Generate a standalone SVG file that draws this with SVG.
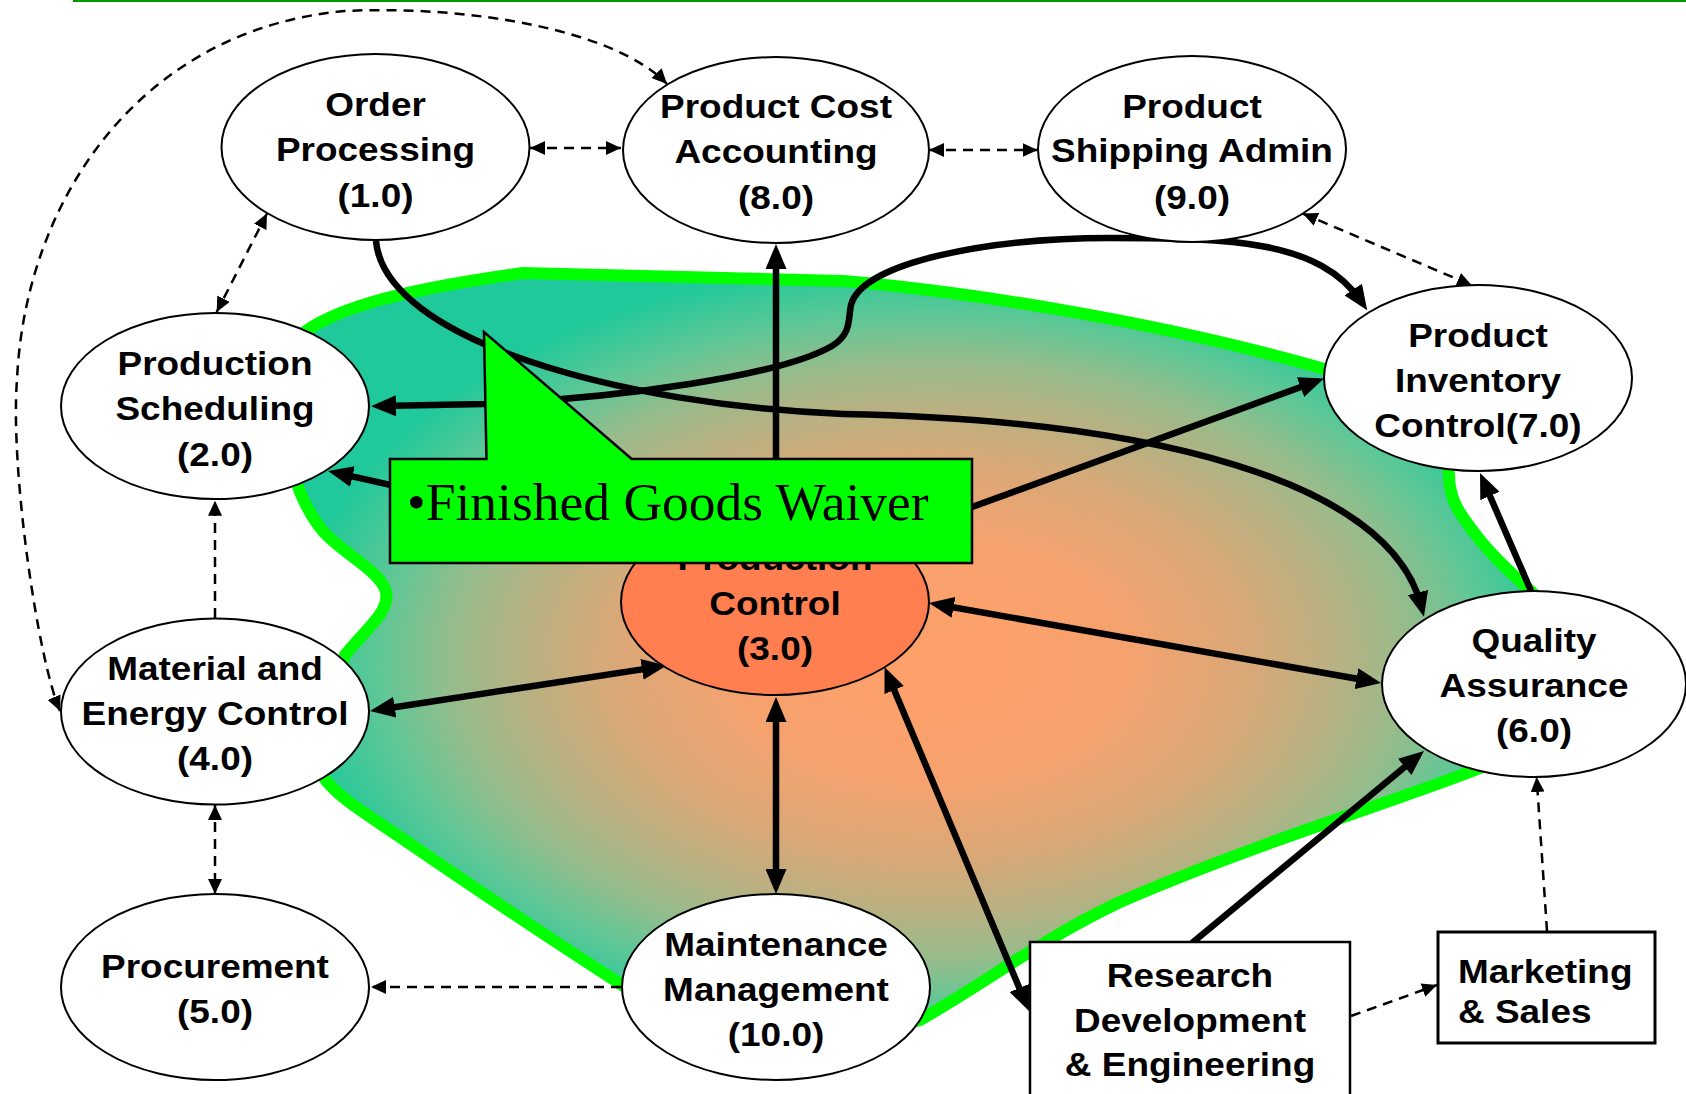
<svg xmlns="http://www.w3.org/2000/svg" width="1686" height="1094" viewBox="0 0 1686 1094">
<defs>
<style>
.node{fill:#fff;stroke:#000;stroke-width:2}
.t{font-family:"Liberation Sans",Arial,sans-serif;font-weight:bold;font-size:33px;text-anchor:middle;fill:#000}
.tl{text-anchor:start}
.s{fill:none;stroke:#000;stroke-width:6.5}
.d{fill:none;stroke:#000;stroke-width:2.5;stroke-dasharray:10 7}
.box{fill:#fff;stroke:#000;stroke-width:2.5}
</style>
<radialGradient id="blobGrad" gradientUnits="userSpaceOnUse" cx="0" cy="0" r="1" gradientTransform="translate(930 660) scale(640 400)">
<stop offset="0" stop-color="#FFA06A"/>
<stop offset="0.3" stop-color="#F6A26E"/>
<stop offset="0.5" stop-color="#D9A878"/>
<stop offset="0.65" stop-color="#B4B283"/>
<stop offset="0.75" stop-color="#96BC8C"/>
<stop offset="0.86" stop-color="#60C796"/>
<stop offset="1" stop-color="#20C99B"/>
</radialGradient>
<marker id="as" viewBox="0 0 25 21" refX="15" refY="10.5" markerWidth="25" markerHeight="21" markerUnits="userSpaceOnUse" orient="auto-start-reverse"><path d="M0 0 L25 10.5 L0 21 Z" fill="#000"/></marker>
<marker id="ad" viewBox="0 0 15 14" refX="15" refY="7" markerWidth="15" markerHeight="14" markerUnits="userSpaceOnUse" orient="auto-start-reverse"><path d="M0 0 L15 7 L0 14 Z" fill="#000"/></marker>
</defs>
<rect width="1686" height="1094" fill="#fff"/>
<line x1="73" y1="1" x2="1686" y2="1" stroke="#009900" stroke-width="2"/>

<g id="region">
<path d="M 290 345 C 320 310, 400 290, 523 273 L 843 281 C 950 290, 1150 318, 1335 372 C 1420 400, 1448 440, 1449 475 C 1449 500, 1460 515, 1480 540 C 1500 565, 1520 580, 1540 600 L 1520 700 L 1480 768 C 1400 800, 1250 845, 1120 902 C 1040 940, 990 980, 920 1020 L 776 1060 L 622 985 C 560 945, 470 885, 400 837 C 360 810, 335 795, 322 775 L 330 700 L 345 655 C 365 630, 390 612, 386 592 C 382 572, 340 552, 322 530 C 310 515, 300 495, 296 480 L 270 420 Z" fill="url(#blobGrad)" stroke="#00FF00" stroke-width="12" stroke-linejoin="round"/>
</g>

<g id="connectors">
<path class="s" d="M 376 241 C 385 340, 620 405, 843 414 C 1150 420, 1390 480, 1421.5 607" marker-end="url(#as)"/>
<path class="s" d="M 776 509 L 776 254" marker-end="url(#as)"/>
<path class="s" d="M 381 406 L 484 404 C 620 398, 780 376, 832 346 C 852 334, 848 318, 851 305 C 862 262, 990 238, 1110 238 C 1230 238, 1320 240, 1361.6 302" marker-start="url(#as)" marker-end="url(#as)"/>
<path class="s" d="M 600 532 L 337.8 473.2" marker-end="url(#as)"/>
<path class="s" d="M 950 515 L 1314.6 382" marker-end="url(#as)"/>
<path class="s" d="M 379.9 709.5 L 656.8 667.1" marker-start="url(#as)" marker-end="url(#as)"/>
<path class="s" d="M 776 707 L 776 884" marker-start="url(#as)" marker-end="url(#as)"/>
<path class="s" d="M 938.8 604.7 L 1371.2 681.3" marker-start="url(#as)" marker-end="url(#as)"/>
<path class="s" d="M 888.4 676.2 L 1025.1 1001.8" marker-start="url(#as)" marker-end="url(#as)"/>
<path class="s" d="M 1192 943 L 1416.3 757.4" marker-end="url(#as)"/>
<path class="s" d="M 1531 591 L 1484 482.2" marker-end="url(#as)"/>

<path class="d" d="M 530 148 L 621 148" marker-start="url(#ad)" marker-end="url(#ad)"/>
<path class="d" d="M 929 150 L 1037.6 150" marker-start="url(#ad)" marker-end="url(#ad)"/>
<path class="d" d="M 1302.7 213.5 L 1472 285.4" marker-start="url(#ad)" marker-end="url(#ad)"/>
<path class="d" d="M 267 213.5 L 216.7 312" marker-start="url(#ad)" marker-end="url(#ad)"/>
<path class="d" d="M 60 711 C 38 660, 10 470, 17 380 C 25 200, 140 30, 344 11 C 470 5, 615 30, 667 84" marker-start="url(#ad)" marker-end="url(#ad)"/>
<path class="d" d="M 215 618 L 215 500.7" marker-end="url(#ad)"/>
<path class="d" d="M 215 805 L 215 894" marker-start="url(#ad)" marker-end="url(#ad)"/>
<path class="d" d="M 621 987 L 371 987" marker-end="url(#ad)"/>
<path class="d" d="M 1351 1016 L 1437 985" marker-end="url(#ad)"/>
<path class="d" d="M 1547 931 L 1536.6 777" marker-end="url(#ad)"/>
</g>

<g id="n1">
<ellipse class="node" cx="375.5" cy="147" rx="154" ry="93"/>
<g transform="translate(375.5 0) scale(1.12 1)"><text class="t" x="0" y="116">Order</text><text class="t" x="0" y="161.5">Processing</text><text class="t" x="0" y="207">(1.0)</text></g>
</g>
<g id="n8">
<ellipse class="node" cx="776" cy="150" rx="153" ry="93"/>
<g transform="translate(776 0) scale(1.12 1)"><text class="t" x="0" y="118.5">Product Cost</text><text class="t" x="0" y="163">Accounting</text><text class="t" x="0" y="209">(8.0)</text></g>
</g>
<g id="n9">
<ellipse class="node" cx="1192" cy="149" rx="154" ry="93"/>
<g transform="translate(1192 0) scale(1.12 1)"><text class="t" x="0" y="118.5">Product</text><text class="t" x="0" y="162.5">Shipping Admin</text><text class="t" x="0" y="209">(9.0)</text></g>
</g>
<g id="n7">
<ellipse class="node" cx="1478" cy="378" rx="154" ry="93"/>
<g transform="translate(1478 0) scale(1.12 1)"><text class="t" x="0" y="347">Product</text><text class="t" x="0" y="392">Inventory</text><text class="t" x="0" y="437">Control(7.0)</text></g>
</g>
<g id="n2">
<ellipse class="node" cx="215" cy="406" rx="154" ry="93"/>
<g transform="translate(215 0) scale(1.12 1)"><text class="t" x="0" y="375">Production</text><text class="t" x="0" y="420.5">Scheduling</text><text class="t" x="0" y="466">(2.0)</text></g>
</g>
<g id="n4">
<ellipse class="node" cx="215" cy="711.5" rx="154" ry="93"/>
<g transform="translate(215 0) scale(1.12 1)"><text class="t" x="0" y="680.5">Material and</text><text class="t" x="0" y="725">Energy Control</text><text class="t" x="0" y="770">(4.0)</text></g>
</g>
<g id="n5">
<ellipse class="node" cx="215" cy="987" rx="154" ry="93"/>
<g transform="translate(215 0) scale(1.12 1)"><text class="t" x="0" y="978">Procurement</text><text class="t" x="0" y="1023">(5.0)</text></g>
</g>
<g id="n3">
<ellipse cx="775" cy="602" rx="154" ry="93" fill="#FF7F50" stroke="#000" stroke-width="2"/>
<g transform="translate(775 0) scale(1.12 1)"><text class="t" x="0" y="570">Production</text><text class="t" x="0" y="615">Control</text><text class="t" x="0" y="660">(3.0)</text></g>
</g>
<g id="n10">
<ellipse class="node" cx="776" cy="987" rx="154" ry="93"/>
<g transform="translate(776 0) scale(1.12 1)"><text class="t" x="0" y="956.5">Maintenance</text><text class="t" x="0" y="1001">Management</text><text class="t" x="0" y="1046.5">(10.0)</text></g>
</g>
<g id="n6">
<ellipse class="node" cx="1534" cy="684" rx="152" ry="93"/>
<g transform="translate(1534 0) scale(1.12 1)"><text class="t" x="0" y="652">Quality</text><text class="t" x="0" y="697">Assurance</text><text class="t" x="0" y="742.5">(6.0)</text></g>
</g>
<g id="rde">
<rect class="box" x="1030" y="942" width="320" height="170"/>
<g transform="translate(1190 0) scale(1.12 1)"><text class="t" x="0" y="987">Research</text><text class="t" x="0" y="1032">Development</text><text class="t" x="0" y="1076">&amp; Engineering</text></g>
</g>
<g id="mks">
<rect x="1438" y="932" width="217" height="111" fill="#fff" stroke="#000" stroke-width="3"/>
<g transform="translate(1458 0) scale(1.12 1)"><text class="t tl" x="0" y="983">Marketing</text><text class="t tl" x="0" y="1023">&amp; Sales</text></g>
</g>

<g id="callout">
<polygon points="390,459 486.5,459 484,332 631.7,459 972,459 972,563 390,563" fill="#00FF00" stroke="#000" stroke-width="2.5" stroke-linejoin="miter"/>
<text x="407" y="520" font-family="'Liberation Serif','Times New Roman',serif" font-size="53.5" fill="#000">•Finished Goods Waiver</text>
</g>
</svg>
